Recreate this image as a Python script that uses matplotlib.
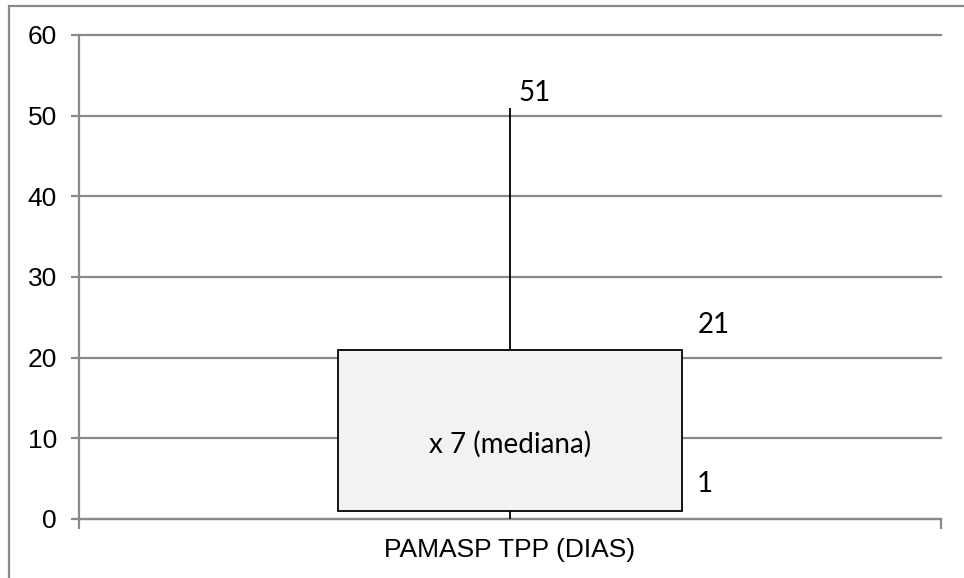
import matplotlib.pyplot as plt
import matplotlib.patches as mpatches

# data
category = 'PAMASP TPP (DIAS)'
minimum = 0
q1 = 1
median = 7
q3 = 21
maximum = 51
yticks = [0, 10, 20, 30, 40, 50, 60]

grid_color = '#898989'
label_font = ['Lato', 'DejaVu Sans']

fig = plt.figure(figsize=(9.64, 5.78), dpi=100)
ax = fig.add_axes([79 / 964, 1 - 519 / 578, 862 / 964, 484 / 578])

# outer frame of the chart area
fig.add_artist(mpatches.Rectangle((9 / 964, -0.05), 1.2, 1 - 6 / 578 + 0.05,
                                  transform=fig.transFigure, fill=False,
                                  edgecolor=grid_color, linewidth=1.6))

xc = 0.5
# whiskers
ax.vlines(xc, q3, maximum, color='black', linewidth=1.3, zorder=3)
ax.vlines(xc, minimum, q1, color='black', linewidth=1.3, zorder=3)
# box
ax.bar(xc, q3 - q1, bottom=q1, width=0.4, color='#f2f2f2',
       edgecolor='black', linewidth=1.3, zorder=4)

fs = 20
ax.text(xc, 9.2, 'x %d (mediana)' % median, ha='center', va='center',
        fontsize=fs, family=label_font, zorder=5)
ax.annotate(str(maximum), (xc, maximum), xytext=(6, 1), textcoords='offset points',
            ha='left', va='bottom', fontsize=fs, family=label_font)
ax.annotate(str(q3), (xc + 0.2, q3), xytext=(11, 8), textcoords='offset points',
            ha='left', va='bottom', fontsize=fs, family=label_font)
ax.annotate(str(q1), (xc + 0.2, q1), xytext=(10, 10), textcoords='offset points',
            ha='left', va='bottom', fontsize=fs, family=label_font)

ax.set_xlim(0, 1)
ax.set_ylim(0, 60)
ax.set_yticks(yticks)
ax.yaxis.grid(True, color=grid_color, linewidth=1.6)
for gl in ax.yaxis.get_gridlines():
    gl.set_clip_on(False)
ax.set_axisbelow(True)
ax.tick_params(axis='y', length=6, width=1.6, color=grid_color, labelsize=19,
               pad=10)
ax.set_xticks([xc])
ax.set_xticklabels([category])
ax.set_xticks([0, 1], minor=True)
ax.tick_params(axis='x', which='major', length=0, labelsize=19, pad=14)
ax.tick_params(axis='x', which='minor', length=7, width=1.6, color=grid_color)
for lab in ax.get_xticklabels() + ax.get_yticklabels():
    lab.set_family(['Liberation Sans', 'DejaVu Sans'])

for side in ['top', 'right']:
    ax.spines[side].set_visible(False)
for side in ['left', 'bottom']:
    ax.spines[side].set_color(grid_color)
    ax.spines[side].set_linewidth(1.6)

fig.savefig('out.png', dpi=100)
